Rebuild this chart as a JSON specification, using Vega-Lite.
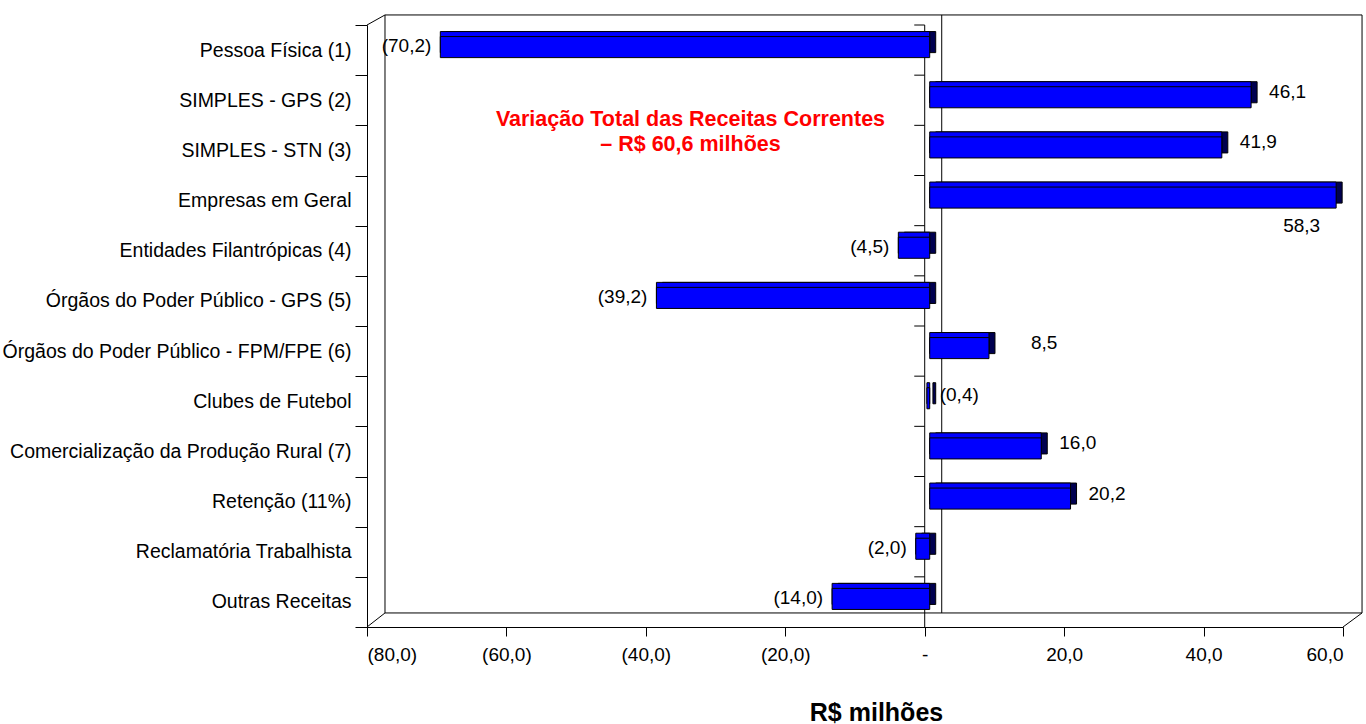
{
  "$schema": "https://vega.github.io/schema/vega-lite/v6.json",
  "width": 976,
  "height": 602,
  "autosize": {"type": "none"},
  "padding": {"left": 367, "top": 25, "right": 23, "bottom": 97},
  "background": "white",
  "config": {
    "font": "Liberation Sans",
    "view": {"stroke": null},
    "locale": {"number": {"decimal": ",", "thousands": ".", "grouping": [3], "currency": ["R$ ", ""]}},
    "axisX": {
      "grid": false,
      "domainColor": "black",
      "tickColor": "black",
      "tickSize": 9,
      "labelPadding": 9,
      "labelFontSize": 19,
      "labelColor": "black",
      "titleFontSize": 25,
      "titleFontWeight": "bold",
      "titleColor": "black"
    },
    "axisY": {
      "grid": false,
      "domainColor": "black",
      "tickColor": "black"
    }
  },
  "datasets": {
    "receitas": [
      {"categoria": "Pessoa Física (1)", "variacao": -70.2},
      {"categoria": "SIMPLES - GPS (2)", "variacao": 46.1},
      {"categoria": "SIMPLES - STN (3)", "variacao": 41.9},
      {"categoria": "Empresas em Geral", "variacao": 58.3},
      {"categoria": "Entidades Filantrópicas (4)", "variacao": -4.5},
      {"categoria": "Órgãos do Poder Público - GPS (5)", "variacao": -39.2},
      {"categoria": "Órgãos do Poder Público - FPM/FPE (6)", "variacao": 8.5},
      {"categoria": "Clubes de Futebol", "variacao": -0.4},
      {"categoria": "Comercialização da Produção Rural (7)", "variacao": 16.0},
      {"categoria": "Retenção (11%)", "variacao": 20.2},
      {"categoria": "Reclamatória Trabalhista", "variacao": -2.0},
      {"categoria": "Outras Receitas", "variacao": -14.0}
    ],
    "nota": [
      {"texto": "Variação Total das Receitas Correntes\n– R$ 60,6 milhões"}
    ]
  },
  "resolve": {"scale": {"y": "independent"}},
  "layer": [
    {
      "data": {"name": "nota"},
      "encoding": {
        "y": {"datum": 0, "type": "quantitative", "scale": {"domain": [0, 12], "reverse": true, "nice": false, "zero": false}, "axis": null}
      },
      "layer": [
        {
          "mark": {"type": "rect", "fill": "white", "fillOpacity": 0, "stroke": "black", "strokeWidth": 1},
          "encoding": {
            "x": {"datum": -77.42, "type": "quantitative"},
            "x2": {"datum": 62.73},
            "y": {"datum": -0.2, "type": "quantitative"},
            "y2": {"datum": 11.72}
          }
        },
        {
          "mark": {"type": "rule", "color": "black", "strokeWidth": 1},
          "encoding": {
            "x": {"datum": 2.44, "type": "quantitative"},
            "y": {"datum": -0.2, "type": "quantitative"},
            "y2": {"datum": 11.72}
          }
        },
        {
          "mark": {"type": "rule", "color": "black", "strokeWidth": 1},
          "encoding": {
            "x": {"datum": 0, "type": "quantitative"},
            "y": {"datum": 0, "type": "quantitative"},
            "y2": {"datum": 12}
          }
        },
        {
          "mark": {"type": "rule", "color": "black", "strokeWidth": 1},
          "encoding": {
            "x": {"datum": -80, "type": "quantitative"},
            "x2": {"datum": -77.42},
            "y": {"datum": 0, "type": "quantitative"},
            "y2": {"datum": -0.2}
          }
        },
        {
          "mark": {"type": "rule", "color": "black", "strokeWidth": 1},
          "encoding": {
            "x": {"datum": -80, "type": "quantitative"},
            "x2": {"datum": -77.42},
            "y": {"datum": 12, "type": "quantitative"},
            "y2": {"datum": 11.72}
          }
        },
        {
          "mark": {"type": "rule", "color": "black", "strokeWidth": 1},
          "encoding": {
            "x": {"datum": 60, "type": "quantitative"},
            "x2": {"datum": 62.73},
            "y": {"datum": 12, "type": "quantitative"},
            "y2": {"datum": 11.72}
          }
        },
        {
          "mark": {"type": "text", "align": "center", "baseline": "middle", "fontSize": 21.5, "fontWeight": "bold", "color": "#FF0000", "lineHeight": 25, "lineBreak": "\n"},
          "encoding": {
            "x": {"datum": -33.6, "type": "quantitative"},
            "y": {"datum": 1.9, "type": "quantitative"},
            "text": {"field": "texto", "type": "nominal"}
          }
        }
      ]
    },
    {
      "data": {"name": "receitas"},
      "encoding": {
        "y": {
          "field": "categoria",
          "type": "nominal",
          "sort": null,
          "scale": {"paddingInner": 0, "paddingOuter": 0},
          "axis": {
            "title": null,
            "tickBand": "extent",
            "tickSize": 12,
            "labelPadding": 4,
            "labelFontSize": 19.5,
            "labelColor": "black",
            "labelLimit": 0
          }
        },
        "x": {
          "field": "variacao",
          "type": "quantitative",
          "scale": {"domain": [-80, 60], "nice": false, "zero": false},
          "axis": {
            "title": "R$ milhões",
            "values": [-80, -60, -40, -20, 0, 20, 40, 60],
            "format": "(.1f",
            "labelExpr": "datum.value == 0 ? '-' : datum.label",
            "titleX": 509,
            "titleY": 85,
            "titleBaseline": "middle",
            "titleAlign": "center"
          }
        }
      },
      "layer": [
        {
          "mark": {"type": "bar", "fill": "#000050", "stroke": "black", "strokeWidth": 1, "height": {"band": 0.42}, "xOffset": 11, "x2Offset": 11, "yOffset": -8, "y2Offset": -8},
          "encoding": {"x2": {"datum": 0}}
        },
        {
          "mark": {"type": "bar", "fill": "#0000FF", "stroke": "black", "strokeWidth": 1, "height": {"band": 0.42}, "xOffset": 5, "x2Offset": 5, "yOffset": -8, "y2Offset": -8},
          "encoding": {"x2": {"datum": 0}}
        },
        {
          "mark": {"type": "bar", "fill": "#0000FF", "stroke": "black", "strokeWidth": 1, "height": {"band": 0.42}, "xOffset": 5, "x2Offset": 5, "yOffset": -3, "y2Offset": -3},
          "encoding": {"x2": {"datum": 0}}
        },
        {
          "mark": {"type": "rule", "color": "black", "strokeWidth": 1},
          "encoding": {
            "x": {"datum": 0, "type": "quantitative"},
            "x2": {"datum": -1.5},
            "y": {"field": "categoria", "type": "nominal", "sort": null, "bandPosition": 0}
          }
        },
        {
          "transform": [{"filter": "datum.variacao < 0 && datum.categoria != 'Clubes de Futebol'"}],
          "mark": {"type": "text", "align": "right", "baseline": "middle", "dx": -4, "dy": -4, "fontSize": 19, "color": "black"},
          "encoding": {"text": {"field": "variacao", "type": "quantitative", "format": "(.1f"}}
        },
        {
          "transform": [{"filter": "datum.variacao > 0 && datum.categoria != 'Empresas em Geral' && datum.categoria != 'Órgãos do Poder Público - FPM/FPE (6)'"}],
          "mark": {"type": "text", "align": "left", "baseline": "middle", "dx": 23, "dy": -8, "fontSize": 19, "color": "black"},
          "encoding": {"text": {"field": "variacao", "type": "quantitative", "format": "(.1f"}}
        },
        {
          "transform": [{"filter": "datum.categoria == 'Órgãos do Poder Público - FPM/FPE (6)'"}],
          "mark": {"type": "text", "align": "left", "baseline": "middle", "dx": 47, "dy": -8, "fontSize": 19, "color": "black"},
          "encoding": {"text": {"field": "variacao", "type": "quantitative", "format": "(.1f"}}
        },
        {
          "transform": [{"filter": "datum.categoria == 'Empresas em Geral'"}],
          "mark": {"type": "text", "align": "right", "baseline": "middle", "dx": -11, "dy": 25, "fontSize": 19, "color": "black"},
          "encoding": {"text": {"field": "variacao", "type": "quantitative", "format": "(.1f"}}
        },
        {
          "transform": [{"filter": "datum.categoria == 'Clubes de Futebol'"}],
          "mark": {"type": "text", "align": "left", "baseline": "middle", "dx": 15, "dy": -6, "fontSize": 19, "color": "black"},
          "encoding": {
            "x": {"datum": 0, "type": "quantitative"},
            "text": {"field": "variacao", "type": "quantitative", "format": "(.1f"}
          }
        }
      ]
    }
  ]
}
